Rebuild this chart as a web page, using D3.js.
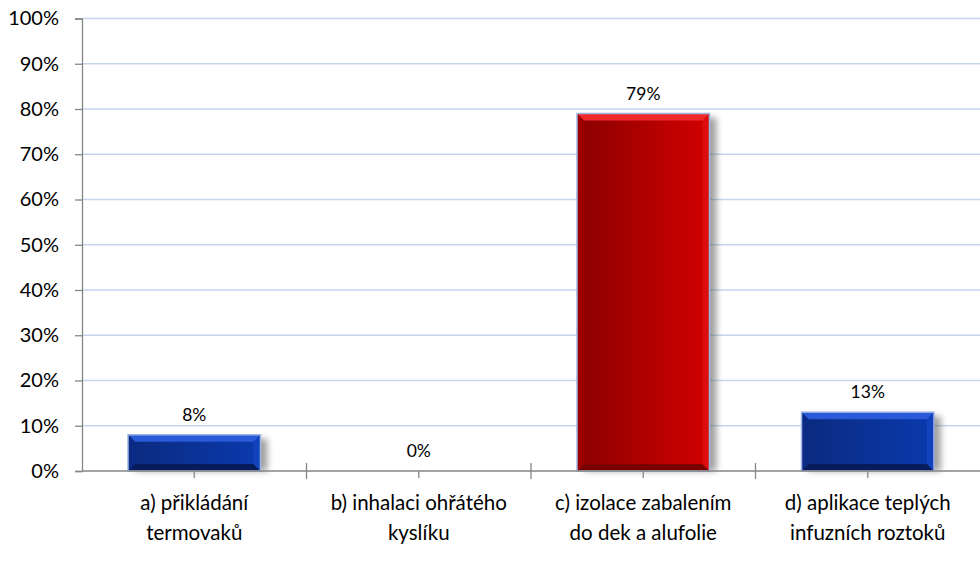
<!DOCTYPE html>
<html><head><meta charset="utf-8">
<script src="https://d3js.org/d3.v7.min.js"></script>
<style>
html,body{margin:0;padding:0;background:#fff;}
svg{display:block;font-family:Lato,"Open Sans",sans-serif;}
</style></head>
<body>
<svg id="chart" width="980" height="576"></svg>
<script>
const categories = [
  ["a) přikládání", "termovaků"],
  ["b) inhalaci ohřátého", "kyslíku"],
  ["c) izolace zabalením", "do dek a alufolie"],
  ["d) aplikace teplých", "infuzních roztoků"]
];
const values = [8, 0, 79, 13];
const valueLabels = ["8%", "0%", "79%", "13%"];
const highlight = [false, false, true, false];
const yTicks = [0,10,20,30,40,50,60,70,80,90,100];

const svg = d3.select("#chart");
const m = {left:82, right:980, top:18.5, bottom:471};

const x = d3.scaleBand().domain(d3.range(categories.length)).range([m.left, m.right]).paddingInner(0).paddingOuter(0);
const y = d3.scaleLinear().domain([0,100]).range([m.bottom, m.top]);

const defs = svg.append("defs");
function grad(id, stops, x2, y2){
  const g = defs.append("linearGradient").attr("id", id).attr("x1",0).attr("y1",0).attr("x2",x2).attr("y2",y2);
  stops.forEach(s => g.append("stop").attr("offset", s[0]).attr("stop-color", s[1]));
}
grad("blueBody", [[0,"#0b2a7e"],[1,"#0a3aae"]], 1, 0);
grad("redBody", [[0,"#8a0000"],[1,"#d20000"]], 1, 0);
defs.append("filter").attr("id","shadow").attr("x","-20%").attr("y","-20%").attr("width","150%").attr("height","150%")
  .append("feGaussianBlur").attr("stdDeviation", 3);
defs.append("filter").attr("id","gblur").attr("x","0").attr("y","-200%").attr("width","100%").attr("height","500%")
  .append("feGaussianBlur").attr("stdDeviation", 1.2);

const grid = svg.append("g");
yTicks.filter(t => t > 0).forEach(t => {
  grid.append("line").attr("x1", m.left).attr("x2", m.right).attr("y1", y(t)+1.5).attr("y2", y(t)+1.5)
    .attr("stroke", "#dfe6f2").attr("stroke-width", 3).attr("filter","url(#gblur)");
  grid.append("line").attr("x1", m.left).attr("x2", m.right).attr("y1", y(t)).attr("y2", y(t))
    .attr("stroke", "#c5d5ee").attr("stroke-width", 1.5);
});

const bw = x.bandwidth() * 0.59;
const barsG = svg.append("g");
values.forEach((v, i) => {
  if (v <= 0) return;
  const cx = x(i) + x.bandwidth()/2;
  const x0 = cx - bw/2, x1 = cx + bw/2, y0 = y(v), y1 = y(0);
  const red = highlight[i];
  const g = barsG.append("g");
  g.append("rect").attr("x", x0+7).attr("y", y0+4).attr("width", bw).attr("height", y1-y0-4)
    .attr("fill", "#555").attr("opacity", 0.55).attr("filter","url(#shadow)");
  g.append("rect").attr("x", x0).attr("y", y0).attr("width", bw).attr("height", y1-y0)
    .attr("fill", red ? "url(#redBody)" : "url(#blueBody)");
  const b = 7;
  const bh = Math.min(b, (y1-y0)/2);
  const top = red ? "#f02a2a" : "#2a5ad8";
  const bottom = red ? "#7a0000" : "#061c5c";
  const left = red ? "#a00000" : "#0a2a88";
  const right = red ? "#e01010" : "#1446c0";
  g.append("path").attr("d", `M${x0},${y0}L${x1},${y0}L${x1-b},${y0+bh}L${x0+b},${y0+bh}Z`).attr("fill", top);
  g.append("path").attr("d", `M${x0},${y1}L${x1},${y1}L${x1-b},${y1-bh}L${x0+b},${y1-bh}Z`).attr("fill", bottom);
  g.append("path").attr("d", `M${x0},${y0}L${x0+b},${y0+bh}L${x0+b},${y1-bh}L${x0},${y1}Z`).attr("fill", left).attr("opacity",0.8);
  g.append("path").attr("d", `M${x1},${y0}L${x1-b},${y0+bh}L${x1-b},${y1-bh}L${x1},${y1}Z`).attr("fill", right).attr("opacity",0.8);
  g.append("rect").attr("x", x0).attr("y", y0).attr("width", bw).attr("height", y1-y0)
    .attr("fill","none").attr("stroke", "#9db4e4").attr("stroke-width", 1.5);
});

values.forEach((v, i) => {
  svg.append("text").attr("x", x(i) + x.bandwidth()/2).attr("y", y(v) - 14)
    .attr("text-anchor","middle").attr("font-size", 17.5).attr("fill","#000").text(valueLabels[i]);
});

const yAxis = d3.axisLeft(y).tickValues(yTicks).tickFormat(d => d + "%").tickSize(7).tickPadding(16);
const ya = svg.append("g").attr("transform", `translate(${m.left},0)`).call(yAxis);
ya.select(".domain").attr("stroke", "#868686").attr("stroke-width", 1.3);
ya.selectAll(".tick line").attr("stroke", "#868686").attr("stroke-width", 1.3);
ya.selectAll(".tick text").attr("font-size", 20).attr("fill", "#000").attr("font-family","Lato,'Open Sans',sans-serif");

svg.append("line").attr("x1", m.left).attr("x2", m.right).attr("y1", m.bottom).attr("y2", m.bottom)
  .attr("stroke", "#868686").attr("stroke-width", 1.3);
d3.range(1, categories.length).forEach(i => {
  svg.append("line").attr("x1", x(i)).attr("x2", x(i)).attr("y1", m.bottom-8).attr("y2", m.bottom+8)
    .attr("stroke", "#868686").attr("stroke-width", 1.3);
});
d3.range(categories.length).forEach(i => {
  const cx = x(i) + x.bandwidth()/2;
  svg.append("line").attr("x1", cx).attr("x2", cx).attr("y1", m.bottom).attr("y2", m.bottom+7)
    .attr("stroke", "#868686").attr("stroke-width", 1.3);
});

categories.forEach((lines, i) => {
  const t = svg.append("text").attr("x", x(i) + x.bandwidth()/2).attr("y", 510)
    .attr("text-anchor","middle").attr("font-size", 20.5).attr("fill","#000");
  lines.forEach((l, k) => t.append("tspan").attr("x", x(i) + x.bandwidth()/2).attr("dy", k ? 30 : 0).text(l));
});
</script>
</body></html>
